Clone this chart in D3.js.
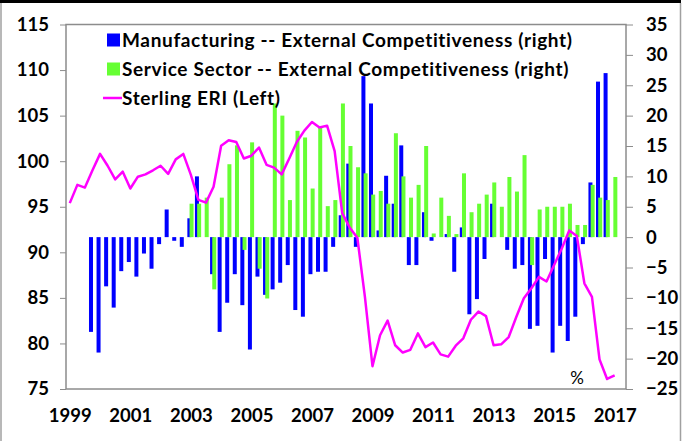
<!DOCTYPE html>
<html>
<head>
<meta charset="utf-8">
<script src="https://cdn.jsdelivr.net/npm/d3@7"></script>
<style>
  body { margin: 0; background: #fff; }
  text { font-family: Lato, "Liberation Sans", sans-serif; }
</style>
</head>
<body>
<div id="chart"></div>
<script>
/*********** DONNEES ***********/

// quarterly, 1999Q1 -> 2017Q1
const startYear = 1999
const yearLabels = ["1999", "2001", "2003", "2005", "2007", "2009", "2011", "2013", "2015", "2017"]

const sterlingERI = [
    95.4, 97.4, 97.1, 99.0, 100.8, 99.5, 98.0, 98.85, 97.0, 98.3,
    98.55, 99.0, 99.5, 98.6, 100.2, 100.8, 98.5, 95.75, 95.45, 97.2,
    101.7, 102.3, 102.1, 100.3, 100.6, 101.5, 99.6, 99.3, 98.55, 100.3,
    102.1, 103.35, 104.3, 103.7, 103.9, 101.1, 94.3, 92.7, 91.6, 85.1,
    77.5, 80.9, 82.5, 79.8, 79.0, 79.3, 81.1, 79.6, 80.1, 78.8,
    78.55, 79.75, 80.56, 82.6, 83.5, 83.0, 79.8, 79.9, 80.7, 82.9,
    84.95, 86.05, 87.3, 86.8, 88.6, 90.4, 92.4, 91.8, 86.6, 85.1,
    78.25, 76.1, 76.5
]

const manufacturing = [
    null, null, null, -15.6, -19.0, -8.1, -11.6, -5.6, -4.1, -6.5,
    -2.7, -5.2, -1.15, 4.55, -0.6, -1.6, 3.1, 10.0, 0, -6.1,
    -15.6, -10.8, -6.1, -11.2, -18.5, -6.5, -9.5, -8.6, -7.5, -4.6,
    -12.0, -13.1, -6.1, -5.7, -5.7, -1.6, 3.6, 12.1, -1.6, 26.5,
    22.0, 1.1, 10.1, 5.5, 15.1, -4.6, -4.6, 4.1, -0.6, 0,
    0.5, -5.7, 1.6, -12.7, -10.2, -3.6, 5.5, 0, -2.1, -5.2,
    -4.6, -15.1, -14.6, -3.6, -19.0, -14.6, -17.1, -13.1, -1.15, 9.0,
    25.6, 27.0, null
]

const services = [
    null, null, null, null, null, null, null, null, null, null,
    null, null, null, null, null, null, 5.5, 5.5, 6.5, -8.6,
    6.5, 12.0, 15.1, -2.1, 15.6, -5.2, -10.1, 22.0, 20.0, 6.1,
    17.5, 16.4, 8.0, 18.2, 5.1, 6.1, 22.0, 15.0, 11.5, 10.5,
    7.0, 7.6, 5.5, 17.1, 10.0, 6.5, 8.6, 15.0, 0.6, 6.5,
    3.5, 0.5, 10.5, 4.1, 5.5, 7.0, 9.0, 5.0, 9.9, 7.5,
    13.5, -4.6, 4.55, 5.0, 5.0, 5.0, 5.5, 2.0, 2.0, 8.6,
    6.5, 6.1, 9.9
]

const leftTicks = [75, 80, 85, 90, 95, 100, 105, 110, 115]
const rightTicks = [-25, -20, -15, -10, -5, 0, 5, 10, 15, 20, 25, 30, 35]

const legendItems = [
    { label: "Manufacturing -- External Competitiveness (right)", type: "rect", color: "#0000FF" },
    { label: "Service Sector -- External Competitiveness (right)", type: "rect", color: "#66FF33" },
    { label: "Sterling ERI (Left)", type: "line", color: "#FF00FF" }
]

/*********** GRAPHIQUE ***********/

let width = 685, height = 441
let plot = { left: 66, right: 626, top: 24.5, bottom: 389 }
let axisColor = "#8c8c8c"

let svg = d3.select("#chart").append("svg")
    .attr("width", width)
    .attr("height", height)

// frame around the picture
svg.append("line").attr("x1", 0).attr("x2", 681).attr("y1", 1.5).attr("y2", 1.5)
    .attr("stroke", "#000").attr("stroke-width", 3)
svg.append("line").attr("x1", 1).attr("x2", 1).attr("y1", 3).attr("y2", height)
    .attr("stroke", "#a0a0a0").attr("stroke-width", 1.5)
svg.append("line").attr("x1", 680.5).attr("x2", 680.5).attr("y1", 3).attr("y2", height)
    .attr("stroke", "#a0a0a0").attr("stroke-width", 1.5)

let quarters = sterlingERI.map((d, i) => startYear + Math.floor(i / 4) + "Q" + (i % 4 + 1))

// 74 quarter slots (last one empty)
let x = d3.scaleLinear()
    .domain([-0.5, quarters.length + 0.5])
    .range([plot.left, plot.right])

let yLeft = d3.scaleLinear().domain([75, 115]).range([plot.bottom, plot.top])
let yRight = d3.scaleLinear().domain([-25, 35]).range([plot.bottom, plot.top])

let barW = 4

// plot border
svg.append("rect")
    .attr("x", plot.left).attr("y", plot.top)
    .attr("width", plot.right - plot.left).attr("height", plot.bottom - plot.top)
    .attr("fill", "none").attr("stroke", axisColor).attr("stroke-width", 1.5)

// bars manufacturing
svg.append("g").selectAll("rect")
    .data(manufacturing.map((v, i) => ({ i: i, v: v })).filter(d => d.v !== null))
    .enter()
    .append("rect")
    .attr("x", d => x(d.i) - 3.5)
    .attr("y", d => yRight(Math.max(0, d.v)))
    .attr("width", barW)
    .attr("height", d => Math.abs(yRight(d.v) - yRight(0)))
    .attr("fill", "#0000FF")

// bars services
svg.append("g").selectAll("rect")
    .data(services.map((v, i) => ({ i: i, v: v })).filter(d => d.v !== null))
    .enter()
    .append("rect")
    .attr("x", d => x(d.i) - 1.3)
    .attr("y", d => yRight(Math.max(0, d.v)))
    .attr("width", barW)
    .attr("height", d => Math.abs(yRight(d.v) - yRight(0)))
    .attr("fill", "#66FF33")

// sterling line
let line = d3.line()
    .x((d, i) => x(i))
    .y(d => yLeft(d))

svg.append("path")
    .datum(sterlingERI)
    .attr("d", line)
    .attr("fill", "none")
    .attr("stroke", "#FF00FF")
    .attr("stroke-width", 2.5)
    .attr("stroke-linejoin", "round")

// left axis
let gLeft = svg.append("g")
    .attr("transform", "translate(" + plot.left + ",0)")
    .call(d3.axisLeft(yLeft).tickValues(leftTicks).tickSize(6).tickPadding(11))
gLeft.select(".domain").remove()
gLeft.selectAll("line").attr("stroke", axisColor)
gLeft.selectAll("text")
    .attr("font-family", "Lato").attr("font-weight", "bold").attr("font-size", 18.5).attr("fill", "#000")

// right axis
let gRight = svg.append("g")
    .attr("transform", "translate(" + plot.right + ",0)")
    .call(d3.axisRight(yRight).tickValues(rightTicks).tickSize(7).tickPadding(13))
gRight.select(".domain").remove()
gRight.selectAll("line").attr("stroke", axisColor)
gRight.selectAll("text")
    .attr("font-family", "Lato").attr("font-weight", "bold").attr("font-size", 18.5).attr("fill", "#000")

// bottom labels (every 8 quarters)
let gBottom = svg.append("g")
    .attr("transform", "translate(0," + plot.bottom + ")")
    .call(d3.axisBottom(x)
        .tickValues(yearLabels.map((d, k) => k * 8))
        .tickFormat((d, k) => yearLabels[k])
        .tickSize(0).tickPadding(20))
gBottom.select(".domain").remove()
gBottom.selectAll("text")
    .attr("font-family", "Lato").attr("font-weight", "bold").attr("font-size", 18.5).attr("fill", "#000")

// % sign
svg.append("text")
    .attr("x", 577).attr("y", 384)
    .attr("text-anchor", "middle")
    .attr("font-size", 17)
    .text("%")

// legend
let legend = svg.append("g")
legendItems.forEach((item, k) => {
    let cy = 40 + k * 29
    if (item.type == "rect") {
        legend.append("rect")
            .attr("x", 107).attr("y", cy - 6.5)
            .attr("width", 13).attr("height", 13)
            .attr("fill", item.color)
    } else {
        legend.append("line")
            .attr("x1", 103).attr("x2", 122)
            .attr("y1", cy).attr("y2", cy)
            .attr("stroke", item.color).attr("stroke-width", 2.5)
    }
    legend.append("text")
        .attr("x", 122).attr("y", cy)
        .attr("dy", "0.35em")
        .attr("font-weight", "bold")
        .attr("font-size", 19)
        .attr("letter-spacing", 0.65)
        .text(item.label)
})
</script>
</body>
</html>
